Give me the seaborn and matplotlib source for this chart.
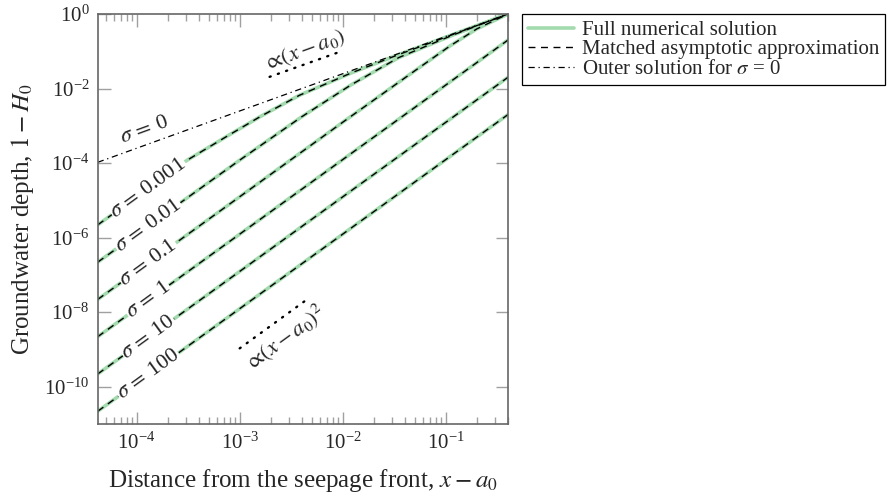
import matplotlib
matplotlib.use("Agg")
import matplotlib.pyplot as plt
import numpy as np
import pandas as pd
import seaborn as sns
from matplotlib.lines import Line2D
from matplotlib.ticker import FixedLocator, LogLocator, NullLocator, NullFormatter

# values (log-log axes)
SIGMAS = ["0.001", "0.01", "0.1", "1", "10", "100"]

X_S0001 = [4.2e-5, 3.1e-4, 8.0e-4, 1.6e-3, 3.8e-3, 1.2e-2, 3.5e-2, 0.12, 0.4]
Y_S0001 = [2.2e-6, 1.2e-4, 5.8e-4, 1.8e-3, 6.6e-3, 2.6e-2, 8.2e-2, 0.29, 1.0]
X_S001 = [4.2e-5, 1e-3, 4e-3, 1.2e-2, 3.5e-2, 0.12, 0.4]
Y_S001 = [2.2e-7, 1.2e-4, 1.75e-3, 1.25e-2, 6.8e-2, 0.28, 1.0]
X_S01 = [4.2e-5, 1e-2, 5e-2, 0.11, 0.2, 0.4]
Y_S01 = [2.2e-8, 1.25e-3, 0.03, 0.14, 0.4, 1.0]
X_S1 = [4.2e-5, 1e-3, 0.4]
Y_S1 = [2.2e-9, 1.24e-6, 0.2]
X_S10 = [4.2e-5, 1e-3, 0.4]
Y_S10 = [2.2e-10, 1.24e-7, 0.02]
X_S100 = [4.2e-5, 1e-3, 0.4]
Y_S100 = [2.2e-11, 1.24e-8, 2.0e-3]

X_OUTER = [4.2e-5, 0.4]
Y_OUTER = [1.05e-4, 1.0]

X_SLOPE1 = [1.95e-3, 9.3e-3]
Y_SLOPE1 = [0.0206, 0.096]
X_SLOPE2 = [1.0e-3, 4.8e-3]
Y_SLOPE2 = [1.07e-9, 2.5e-8]

X_TICKS = [1e-4, 1e-3, 1e-2, 1e-1]
Y_TICKS = [1e-10, 1e-8, 1e-6, 1e-4, 1e-2, 1e0]

GREEN = "#a3dbae"
LABEL_X = 1.3e-4

sns.set_theme(style="ticks")
plt.rcParams["font.family"] = ["Liberation Serif", "DejaVu Serif"]
plt.rcParams["mathtext.fontset"] = "stix"

curves = list(zip(SIGMAS, [X_S0001, X_S001, X_S01, X_S1, X_S10, X_S100],
                  [Y_S0001, Y_S001, Y_S01, Y_S1, Y_S10, Y_S100]))

fig = plt.figure(figsize=(8.91, 5.0), dpi=100)
ax = fig.add_axes([0.1097, 0.152, 0.4604, 0.820])
ax.set_xscale("log")
ax.set_yscale("log")

for sigma, xs, ys in curves:
    df = pd.DataFrame({"x": xs, "y": ys})
    sns.lineplot(data=df, x="x", y="y", ax=ax, color=GREEN, lw=2.6,
                 estimator=None, sort=False)
for sigma, xs, ys in curves:
    df = pd.DataFrame({"x": xs, "y": ys})
    sns.lineplot(data=df, x="x", y="y", ax=ax, color="black", lw=1.0,
                 estimator=None, sort=False)
    ax.lines[-1].set_dashes((5, 4))

sns.lineplot(x=X_OUTER, y=Y_OUTER, ax=ax, color="black", lw=0.9,
             estimator=None, sort=False)
ax.lines[-1].set_dashes((5, 3, 1, 3))
dots = (0, (0.5, 3.2))
ax.plot(X_SLOPE1, Y_SLOPE1, color="black", lw=1.7, linestyle=dots,
        dash_capstyle="round")
ax.plot(X_SLOPE2, Y_SLOPE2, color="black", lw=1.7, linestyle=dots,
        dash_capstyle="round")

# inline sigma labels
for sigma, xs, ys in curves:
    ly = 10 ** np.interp(np.log10(LABEL_X), np.log10(xs), np.log10(ys))
    ax.text(LABEL_X, ly, r"$\sigma\,=\,$" + sigma, fontsize=16, rotation=36,
            rotation_mode="anchor", ha="center", va="center",
            bbox=dict(facecolor="white", edgecolor="none", pad=0.5), zorder=5)
ax.text(1.2e-4, 7.8e-4, r"$\sigma\,=\,$0", fontsize=16, rotation=20,
        rotation_mode="anchor", ha="center", va="center")
ax.text(4.3e-3, 0.105, r"$\propto\!(x - a_0)$", fontsize=16, rotation=20,
        rotation_mode="anchor", ha="center", va="center")
ax.text(2.75e-3, 2.1e-9, r"$\propto\!(x - a_0)^2$", fontsize=16, rotation=36,
        rotation_mode="anchor", ha="center", va="center")

ax.set_xlim(4.2e-5, 0.4)
ax.set_ylim(1e-11, 1.0)
ax.xaxis.set_major_locator(FixedLocator(X_TICKS))
ax.xaxis.set_minor_locator(LogLocator(base=10, subs=np.arange(2, 10)))
ax.xaxis.set_minor_formatter(NullFormatter())
ax.yaxis.set_major_locator(FixedLocator(Y_TICKS))
ax.yaxis.set_minor_locator(NullLocator())
ax.tick_params(which="both", direction="in", top=True, right=True,
               color="#a0a0a0", labelsize=15, width=1.0)
ax.tick_params(which="major", length=9, pad=6)
ax.tick_params(which="minor", length=5)
for sp in ax.spines.values():
    sp.set_color("#666666")
    sp.set_linewidth(1.2)

ax.set_xlabel(r"Distance from the seepage front, $x - a_0$", fontsize=18, labelpad=10)
ax.set_ylabel(r"Groundwater depth, $1 - H_0$", fontsize=18, labelpad=6)

handles = [
    Line2D([], [], color=GREEN, lw=2.6),
    Line2D([], [], color="black", lw=1.0, dashes=(5, 4)),
    Line2D([], [], color="black", lw=0.9, dashes=(5, 3, 1, 3)),
]
labels = ["Full numerical solution", "Matched asymptotic approximation",
          r"Outer solution for $\sigma$ = 0"]
leg = fig.legend(handles, labels, loc="upper left", bbox_to_anchor=(0.586, 0.972),
                 fontsize=15, frameon=True, fancybox=False, framealpha=1,
                 edgecolor="black", handlelength=2.2, handletextpad=0.35,
                 labelspacing=0.0, borderpad=0.3, borderaxespad=0)
leg.get_frame().set_linewidth(0.9)

fig.savefig("out.png", dpi=100)
